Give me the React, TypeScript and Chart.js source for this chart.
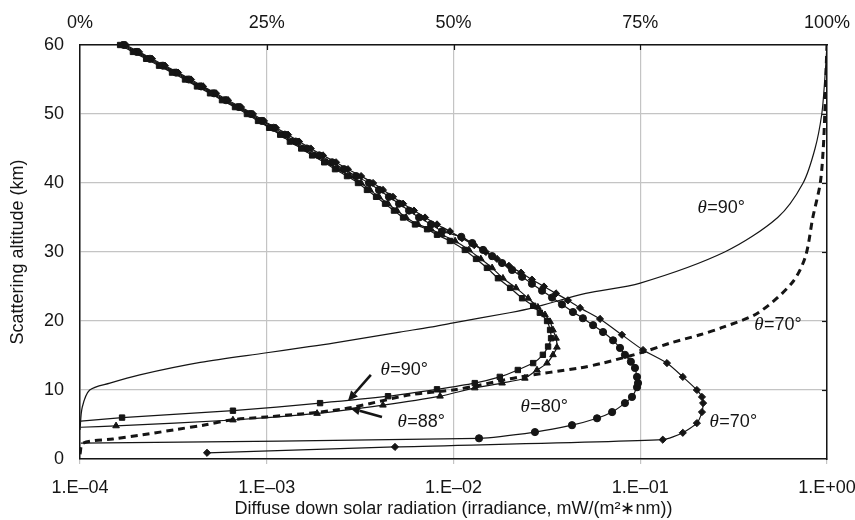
import React, { useEffect, useRef } from 'react';
import { Chart, registerables } from 'chart.js';

Chart.register(...registerables);

// ---------- axes ----------
const xTickValues = [1e-4, 1e-3, 1e-2, 1e-1, 1];
const topTickStep = 25;
const yTickStep = 10;

// ---------- irradiance profiles (bottom log axis) ----------
// θ=90° (squares)
const irr90Alt = [5.5, 6.0, 7.0, 8.1, 9.1, 10.1, 11.0, 11.9, 12.9, 13.9, 15.1, 16.3, 17.5, 18.7, 20.0, 21.2, 22.2, 23.3, 24.8, 26.2, 27.7, 29.0, 30.3, 31.6, 32.5, 33.3,
  34, 35, 36, 37, 38, 39, 40, 41, 42, 43, 44, 45, 46, 47, 48, 49, 50, 51, 52, 53, 54, 55, 56, 57, 58, 59, 60];
const irr90Val = [1.01e-4, 1.68e-4, 6.59e-4, 1.93e-3, 4.46e-3, 8.16e-3, 1.30e-2, 1.77e-2, 2.21e-2, 2.67e-2, 3.01e-2, 3.21e-2, 3.33e-2, 3.29e-2, 3.17e-2, 2.90e-2, 2.67e-2, 2.33e-2, 2.01e-2, 1.73e-2, 1.51e-2, 1.32e-2, 1.15e-2, 9.57e-3, 8.16e-3, 7.22e-3,
  6.22e-3, 5.37e-3, 4.80e-3, 4.30e-3, 3.85e-3, 3.44e-3, 3.08e-3, 2.69e-3, 2.32e-3, 2.03e-3, 1.75e-3, 1.53e-3, 1.33e-3, 1.18e-3, 1.03e-3, 8.98e-4, 7.83e-4, 6.76e-4, 5.76e-4, 4.97e-4, 4.23e-4, 3.65e-4, 3.11e-4, 2.65e-4, 2.26e-4, 1.92e-4, 1.64e-4];

// θ=88° (triangles)
const irr88Alt = [4.6, 4.8, 5.65, 6.6, 7.8, 9.1, 10.3, 11.0, 11.7, 12.9, 13.9, 15.1, 16.2, 17.5, 18.7, 19.9, 20.9, 22.0, 23.3, 24.8, 26.2, 27.7, 29.0, 30.3, 31.6, 32.5, 33.3,
  34, 35, 36, 37, 38, 39, 40, 41, 42, 43, 44, 45, 46, 47, 48, 49, 50, 51, 52, 53, 54, 55, 56, 57, 58, 59, 60];
const irr88Val = [1.01e-4, 1.56e-4, 6.59e-4, 1.86e-3, 4.19e-3, 8.47e-3, 1.30e-2, 1.82e-2, 2.41e-2, 2.80e-2, 3.17e-2, 3.41e-2, 3.58e-2, 3.54e-2, 3.41e-2, 3.29e-2, 3.09e-2, 2.83e-2, 2.51e-2, 2.16e-2, 1.84e-2, 1.61e-2, 1.40e-2, 1.21e-2, 1.02e-2, 8.68e-3, 7.58e-3,
  6.46e-3, 5.57e-3, 4.98e-3, 4.46e-3, 3.99e-3, 3.57e-3, 3.20e-3, 2.79e-3, 2.41e-3, 2.10e-3, 1.81e-3, 1.56e-3, 1.37e-3, 1.21e-3, 1.05e-3, 9.20e-4, 8.04e-4, 6.93e-4, 5.90e-4, 5.09e-4, 4.34e-4, 3.74e-4, 3.19e-4, 2.72e-4, 2.31e-4, 1.97e-4, 1.68e-4];

// θ=80° (circles)
const irr80Alt = [2.3, 3.0, 3.9, 4.9, 5.9, 6.8, 8.1, 9.0, 10.4, 11.0, 11.9, 13.2, 14.1, 15.1, 16.1, 17.2, 18.4, 19.4, 20.4, 21.3, 22.4, 23.4, 24.4, 25.4, 26.4, 27.4, 28.4, 29.4, 30.3, 31.3, 32.2, 33,
  34, 35, 36, 37, 38, 39, 40, 41, 42, 43, 44, 45, 46, 47, 48, 49, 50, 51, 52, 53, 54, 55, 56, 57, 58, 59, 60];
const irr80Val = [1.01e-4, 1.37e-2, 2.73e-2, 4.31e-2, 5.87e-2, 7.07e-2, 8.28e-2, 9.03e-2, 9.61e-2, 9.73e-2, 9.61e-2, 9.37e-2, 8.91e-2, 8.28e-2, 7.79e-2, 7.15e-2, 6.32e-2, 5.59e-2, 4.93e-2, 4.36e-2, 3.81e-2, 3.37e-2, 2.98e-2, 2.63e-2, 2.33e-2, 2.06e-2, 1.82e-2, 1.61e-2, 1.44e-2, 1.26e-2, 1.10e-2, 8.68e-3,
  7.58e-3, 6.54e-3, 5.78e-3, 5.11e-3, 4.51e-3, 3.99e-3, 3.53e-3, 3.01e-3, 2.59e-3, 2.24e-3, 1.91e-3, 1.64e-3, 1.43e-3, 1.25e-3, 1.09e-3, 9.43e-4, 8.23e-4, 7.10e-4, 6.05e-4, 5.22e-4, 4.45e-4, 3.83e-4, 3.27e-4, 2.78e-4, 2.37e-4, 2.02e-4, 1.72e-4];

// θ=70° (diamonds)
const irr70Alt = [0.9, 1.75, 2.8, 3.8, 5.2, 6.8, 8.1, 9.0, 10.0, 11.9, 13.9, 15.8, 18.0, 20.3, 21.9,
  23, 24, 25, 26, 27, 28, 29, 30, 31, 32, 33, 34, 35, 36, 37, 38, 39, 40, 41, 42, 43, 44, 45, 46, 47, 48, 49, 50, 51, 52, 53, 54, 55, 56, 57, 58, 59, 60];
const irr70Val = [4.79e-4, 4.86e-3, 0.132, 0.169, 0.201, 0.214, 0.217, 0.214, 0.201, 0.169, 0.139, 0.1035, 7.98e-2, 6.09e-2, 4.76e-2,
  4.10e-2, 3.54e-2, 3.05e-2, 2.63e-2, 2.30e-2, 1.98e-2, 1.71e-2, 1.49e-2, 1.29e-2, 1.11e-2, 9.57e-3, 8.16e-3, 7.04e-3, 6.14e-3, 5.37e-3, 4.74e-3, 4.19e-3, 3.71e-3, 3.20e-3, 2.72e-3,
  2.35e-3, 2.00e-3, 1.72e-3, 1.49e-3, 1.30e-3, 1.12e-3, 9.66e-4, 8.44e-4, 7.28e-4, 6.20e-4, 5.35e-4, 4.56e-4, 3.93e-4, 3.35e-4, 2.85e-4, 2.43e-4, 2.07e-4, 1.76e-4];

// ---------- cumulative share (top % axis) ----------
const cum90Pct = [0, 0.3, 1.3, 4.0, 8.0, 16.1, 25, 29.5, 33.9, 42.8, 46.9, 49.8, 57.5, 60.6, 67.7, 75, 86.3, 93.4, 96.8, 98.4, 99.3, 99.7, 100];
const cum90Alt = [4.2, 7.5, 10, 11, 12.2, 14, 15.4, 16.1, 16.8, 18.4, 19.1, 19.7, 21.2, 21.9, 24, 25.5, 30, 35, 40, 45, 50, 55, 60];

const cum70Pct = [0, 0.4, 4.4, 8.4, 13.0, 16.5, 20.5, 25.0, 32.1, 36.5, 44.2, 49.9, 53.5, 58.9, 66.9, 70.0, 75.4, 79.0, 83.0, 86.1, 90.8, 95.3, 97.1, 98.1, 99.1, 99.5, 99.7, 99.9, 100];
const cum70Alt = [0.7, 2.3, 2.9, 3.5, 4.3, 4.9, 5.7, 6.1, 6.8, 7.5, 9.3, 10.0, 10.7, 11.9, 13.2, 13.9, 15.5, 16.8, 18.0, 19.1, 21.2, 25.5, 29.3, 35, 40, 45, 50, 57, 60];

// ---------- annotations ----------
const noteTexts = ['=90°', '=70°', '=90°', '=88°', '=80°', '=70°'];
const noteAxis = ['x2', 'x2', 'x', 'x', 'x', 'x'];
const noteX = [85.8, 93.4, 5.43e-3, 6.7e-3, 3.05e-2, 0.314];
const noteY = [36.4, 19.4, 12.9, 5.4, 7.5, 5.4];

const arrowFromX = [3.61e-3, 4.14e-3];
const arrowFromY = [12.2, 6.1];
const arrowToX = [2.72e-3, 2.79e-3];
const arrowToY = [8.4, 7.4];

const xTitle = 'Diffuse down solar radiation (irradiance, mW/(m²∗nm))';
const yTitle = 'Scattering altitude (km)';

const INK = '#151515';
const GRID = '#c4c4c4';
const SANS = '"Liberation Sans", Arial, Helvetica, sans-serif';

function pts(xs: number[], ys: number[]) {
  return xs.map((x, i) => ({ x, y: ys[i] }));
}

function fmtExp(v: number) {
  const e = Math.round(Math.log10(v));
  const sign = e < 0 ? '–' : '+';
  return '1.E' + sign + String(Math.abs(e)).padStart(2, '0');
}

const notesPlugin = {
  id: 'notes',
  afterDatasetsDraw(chart: any) {
    const ctx = chart.ctx as CanvasRenderingContext2D;
    const sY = chart.scales.y;
    const area = chart.chartArea;
    ctx.save();
    // inward ticks on top and right
    ctx.strokeStyle = INK;
    ctx.lineWidth = 1.2;
    const sx2 = chart.scales.x2;
    [25, 50, 75].forEach((v) => {
      const px = Math.round(sx2.getPixelForValue(v)) + 0.5;
      ctx.beginPath();
      ctx.moveTo(px, area.top);
      ctx.lineTo(px, area.top + 5);
      ctx.stroke();
    });
    [10, 20, 30, 40, 50].forEach((v) => {
      const py = Math.round(sY.getPixelForValue(v)) + 0.5;
      ctx.beginPath();
      ctx.moveTo(area.right, py);
      ctx.lineTo(area.right - 5, py);
      ctx.stroke();
    });

    // labels
    ctx.fillStyle = INK;
    ctx.textBaseline = 'middle';
    ctx.textAlign = 'left';
    const thetaFont = 'italic 19px "Liberation Serif", "DejaVu Serif", serif';
    const restFont = '18px ' + SANS;
    noteTexts.forEach((t, i) => {
      const sx = chart.scales[noteAxis[i]];
      const cx = sx.getPixelForValue(noteX[i]);
      const cy = sY.getPixelForValue(noteY[i]);
      ctx.font = thetaFont;
      const w1 = ctx.measureText('θ').width;
      ctx.font = restFont;
      const w2 = ctx.measureText(t).width;
      const x0 = cx - (w1 + w2) / 2;
      ctx.font = thetaFont;
      ctx.fillText('θ', x0, cy);
      ctx.font = restFont;
      ctx.fillText(t, x0 + w1 + 0.5, cy);
    });

    // arrows
    const sx = chart.scales.x;
    ctx.strokeStyle = INK;
    ctx.lineWidth = 2.6;
    arrowFromX.forEach((_, i) => {
      const fx = sx.getPixelForValue(arrowFromX[i]);
      const fy = sY.getPixelForValue(arrowFromY[i]);
      const tx = sx.getPixelForValue(arrowToX[i]);
      const ty = sY.getPixelForValue(arrowToY[i]);
      const ang = Math.atan2(ty - fy, tx - fx);
      const hl = 10;
      const hw = 4.5;
      const bx = tx - hl * Math.cos(ang);
      const by = ty - hl * Math.sin(ang);
      ctx.beginPath();
      ctx.moveTo(fx, fy);
      ctx.lineTo(bx, by);
      ctx.stroke();
      ctx.beginPath();
      ctx.moveTo(tx, ty);
      ctx.lineTo(bx + hw * Math.sin(ang), by - hw * Math.cos(ang));
      ctx.lineTo(bx - hw * Math.sin(ang), by + hw * Math.cos(ang));
      ctx.closePath();
      ctx.fill();
    });
    ctx.restore();
  },
};

function irrDataset(label: string, vals: number[], alts: number[], style: string, radius: number, hideFirst: boolean) {
  return {
    label,
    data: pts(vals, alts),
    xAxisID: 'x',
    yAxisID: 'y',
    showLine: true,
    borderColor: INK,
    borderWidth: 1.2,
    backgroundColor: INK,
    pointBackgroundColor: INK,
    pointBorderColor: INK,
    pointBorderWidth: 1,
    pointStyle: style,
    pointRadius: (c: any) => (hideFirst && c.dataIndex === 0 ? 0 : radius),
    tension: 0.2,
    clip: false,
  };
}

export default function App() {
  const ref = useRef<HTMLCanvasElement | null>(null);

  useEffect(() => {
    if (!ref.current) return;
    Chart.defaults.font.family = SANS;
    Chart.defaults.font.size = 18;
    Chart.defaults.color = INK;

    const zeroPad = (s: any) => {
      s.paddingLeft = 0;
      s.paddingRight = 0;
      s.paddingTop = 0;
      s.paddingBottom = 0;
    };

    const chart = new Chart(ref.current, {
      type: 'scatter',
      data: {
        datasets: [
          irrDataset('θ=90°', irr90Val, irr90Alt, 'rect', 3.8, true),
          irrDataset('θ=88°', irr88Val, irr88Alt, 'triangle', 3.8, true),
          irrDataset('θ=80°', irr80Val, irr80Alt, 'circle', 3.6, true),
          irrDataset('θ=70°', irr70Val, irr70Alt, 'rectRot', 3.6, false),
          {
            label: 'share θ=90°',
            data: pts(cum90Pct, cum90Alt),
            xAxisID: 'x2',
            yAxisID: 'y',
            showLine: true,
            borderColor: INK,
            borderWidth: 1.2,
            pointRadius: 0,
            tension: 0.3,
          },
          {
            label: 'share θ=70°',
            data: pts(cum70Pct, cum70Alt),
            xAxisID: 'x2',
            yAxisID: 'y',
            showLine: true,
            borderColor: INK,
            borderWidth: 3,
            borderDash: [7, 5],
            pointRadius: 0,
            tension: 0.3,
          },
        ] as any,
      },
      options: {
        animation: false,
        responsive: false,
        maintainAspectRatio: false,
        layout: { padding: 0 },
        plugins: {
          legend: { display: false },
          tooltip: { enabled: false },
        },
        scales: {
          x: {
            type: 'logarithmic',
            position: 'bottom',
            min: 1e-4,
            max: 1,
            afterBuildTicks: (s: any) => {
              s.ticks = xTickValues.map((v) => ({ value: v, major: true }));
            },
            ticks: {
              autoSkip: false,
              maxRotation: 0,
              minRotation: 0,
              padding: 13,
              color: INK,
              font: { size: 18 },
              callback: (v: any) => fmtExp(Number(v)),
            },
            grid: { color: GRID, lineWidth: 1.2, drawTicks: true, tickLength: 5, tickColor: GRID },
            border: { color: INK, width: 1.5 },
            title: { display: true, text: xTitle, color: INK, font: { size: 18 }, padding: { top: 0, bottom: 0 } },
            afterFit: (s: any) => {
              s.height = 61;
              zeroPad(s);
            },
          } as any,
          x2: {
            type: 'linear',
            position: 'top',
            min: 0,
            max: 100,
            ticks: {
              stepSize: topTickStep,
              padding: 3,
              color: INK,
              maxRotation: 0,
              callback: (v: any) => v + '%',
            },
            grid: { display: false, drawOnChartArea: false },
            border: { display: true, color: INK, width: 1.5 },
            afterFit: (s: any) => {
              s.height = 45;
              zeroPad(s);
            },
          } as any,
          y: {
            type: 'linear',
            position: 'left',
            min: 0,
            max: 60,
            ticks: { stepSize: yTickStep, padding: 16, color: INK },
            grid: { color: GRID, lineWidth: 1.2, drawTicks: false },
            border: { color: INK, width: 1.5 },
            title: { display: true, text: yTitle, color: INK, font: { size: 18 }, padding: { top: 7, bottom: 0 } },
            afterFit: (s: any) => {
              s.width = 80;
              zeroPad(s);
            },
          } as any,
          y2: {
            type: 'linear',
            position: 'right',
            min: 0,
            max: 60,
            ticks: { display: false },
            grid: { display: false, drawOnChartArea: false },
            border: { display: true, color: INK, width: 1.5 },
            afterFit: (s: any) => {
              s.width = 28;
              zeroPad(s);
            },
          } as any,
        },
      },
      plugins: [notesPlugin],
    });
    return () => chart.destroy();
  }, []);

  return (
    <div style={{ position: 'absolute', left: 0, top: 0, width: 855, height: 520, background: '#fff' }}>
      <canvas ref={ref} width={855} height={520} style={{ display: 'block', width: 855, height: 520 }} />
    </div>
  );
}
